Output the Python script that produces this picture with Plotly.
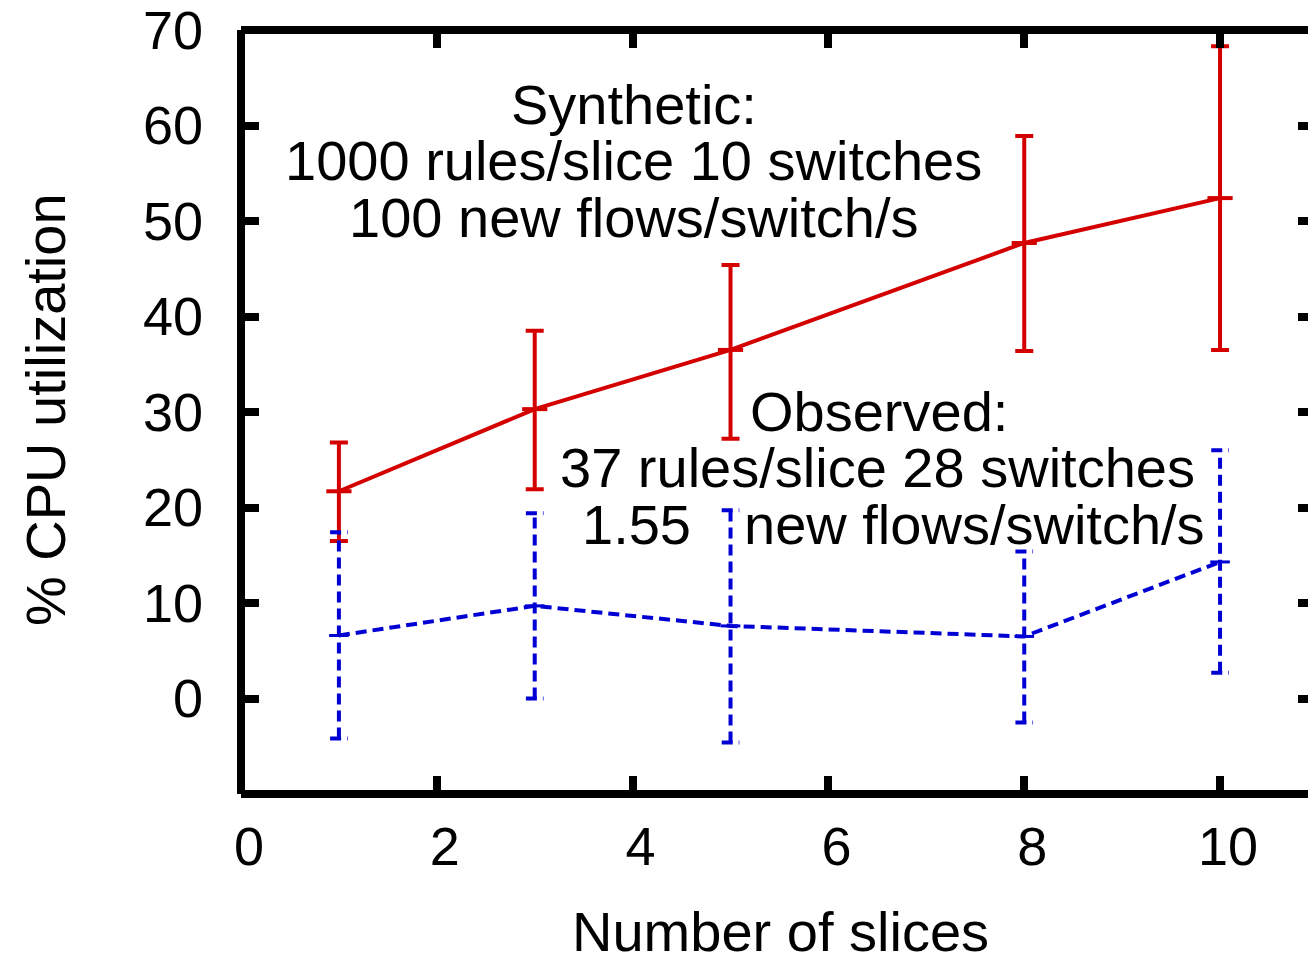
import plotly.graph_objects as go

# ---- data ----
slices = [1, 3, 5, 8, 10]
synthetic_mean = [21.7, 30.3, 36.5, 47.7, 52.4]
synthetic_low = [16.5, 21.9, 27.2, 36.4, 36.5]
synthetic_high = [26.8, 38.5, 45.4, 58.9, 68.3]

observed_mean = [6.6, 9.7, 7.6, 6.5, 14.3]
observed_low = [-4.2, 0.0, -4.6, -2.5, 2.7]
observed_high = [17.4, 19.4, 19.7, 15.4, 26.0]

x_ticks = [0, 2, 4, 6, 8, 10]
y_ticks = [0, 10, 20, 30, 40, 50, 60, 70]

RED = "#d40000"
BLUE = "#0000d4"
FONT = "Liberation Sans, Arial, Helvetica, sans-serif"

fig = go.Figure()

# Synthetic (solid red with error bars)
fig.add_trace(go.Scatter(
    x=slices, y=synthetic_mean, mode="lines+markers",
    line=dict(color=RED, width=4),
    marker=dict(symbol="line-ew", size=18, line=dict(color=RED, width=4)),
    error_y=dict(type="data", symmetric=False,
                 array=[h - m for h, m in zip(synthetic_high, synthetic_mean)],
                 arrayminus=[m - l for l, m in zip(synthetic_low, synthetic_mean)],
                 color=RED, thickness=4, width=9),
    showlegend=False, hoverinfo="skip"))

# Observed (dashed blue) error bars drawn as dashed segments
cap = 0.09
ex, ey = [], []
for xi, lo, hi in zip(slices, observed_low, observed_high):
    ex += [xi, xi, None, xi - cap, xi + cap, None, xi - cap, xi + cap, None]
    ey += [lo, hi, None, lo, lo, None, hi, hi, None]
fig.add_trace(go.Scatter(
    x=ex, y=ey, mode="lines", connectgaps=False,
    line=dict(color=BLUE, width=4, dash="11px,6px"),
    showlegend=False, hoverinfo="skip"))
fig.add_trace(go.Scatter(
    x=slices, y=observed_mean, mode="lines+markers",
    line=dict(color=BLUE, width=4, dash="11px,6px"),
    marker=dict(symbol="line-ew", size=14, line=dict(color=BLUE, width=3)),
    showlegend=False, hoverinfo="skip"))

tickfont = dict(family=FONT, size=54, color="black")
fig.update_xaxes(range=[0, 10.98], tickvals=x_ticks, ticktext=[str(v) for v in x_ticks],
                 ticks="inside", ticklen=18, tickwidth=8, tickcolor="black",
                 showline=False, mirror="ticks", showgrid=False, zeroline=False,
                 tickfont=tickfont, ticklabelshift=8, ticklabelstandoff=16,
                 ticklabeloverflow="allow", automargin=False)
fig.update_yaxes(range=[-10, 70.001], tickvals=y_ticks, ticktext=[str(v) for v in y_ticks],
                 ticks="inside", ticklen=18, tickwidth=8, tickcolor="black",
                 showline=False, mirror="ticks", showgrid=False, zeroline=False,
                 tickfont=tickfont, ticklabelstandoff=37, ticklabeloverflow="allow",
                 automargin=False)

# plot border (left, top, bottom thick; right edge just clipped)
border = dict(color="black", width=8)
fig.add_shape(type="line", xref="paper", yref="paper", x0=0, x1=0, y0=0, y1=1, line=border)
fig.add_shape(type="line", xref="paper", yref="paper", x0=0, x1=1, y0=0, y1=0, line=border)
fig.add_shape(type="line", xref="paper", yref="paper", x0=0, x1=1, y0=1, y1=1, line=border)
fig.add_shape(type="line", xref="paper", yref="paper", x0=1, x1=1, y0=0, y1=1,
              line=dict(color="#888888", width=2))

afont = dict(family=FONT, size=56, color="black")
texts = [
    ("Synthetic:", 4.01, 62.2),
    ("1000 rules/slice 10 switches", 4.01, 56.3),
    ("100 new flows/switch/s", 4.01, 50.4),
    ("Observed:", 6.52, 30.1),
    ("37 rules/slice 28 switches", 6.50, 24.2),
    ("1.55", 4.04, 18.2),
    ("new flows/switch/s", 7.49, 18.2),
]
for t, x, y in texts:
    fig.add_annotation(text=t, x=x, y=y, xref="x", yref="y", showarrow=False,
                       xanchor="center", yanchor="middle", font=afont)

fig.add_annotation(text="Number of slices", xref="paper", yref="paper",
                   x=0.5014, y=-0.1806, showarrow=False, xanchor="center",
                   yanchor="middle", font=afont)
fig.add_annotation(text="% CPU utilization", xref="paper", yref="paper",
                   x=-0.1823, y=0.5026, showarrow=False, xanchor="center",
                   yanchor="middle", textangle=-90, font=afont)

fig.update_layout(width=1308, height=951,
                  margin=dict(l=233, r=0, t=22, b=165, autoexpand=False),
                  plot_bgcolor="white", paper_bgcolor="white")

fig.write_html("out.html")
